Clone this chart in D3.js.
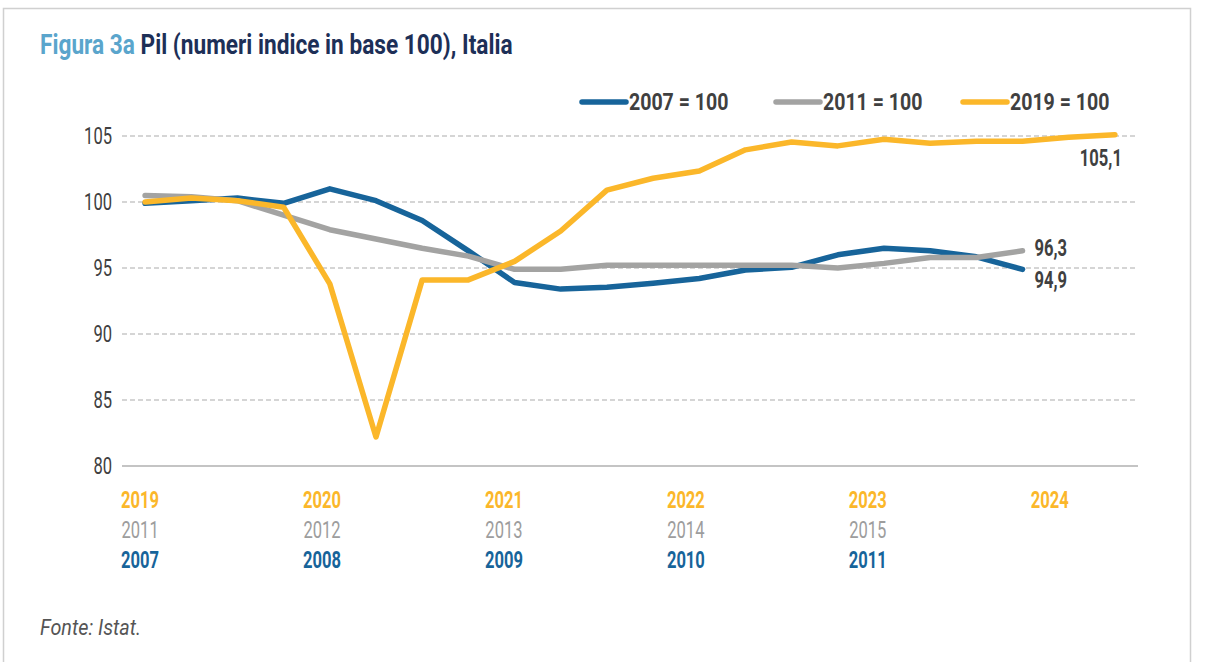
<!DOCTYPE html>
<html>
<head>
<meta charset="utf-8">
<script src="https://cdn.jsdelivr.net/npm/d3@7"></script>
<style>
  body { margin: 0; background: #fff; }
  svg text { font-family: "Roboto", "DejaVu Sans", sans-serif; }
</style>
</head>
<body>
<svg id="chart" width="1206" height="662"></svg>
<script>
// quarterly positions on the x axis (the 2019=100 series runs 2019 T1 .. 2024 T2)
const quarters = [
  "2019T1", "2019T2", "2019T3", "2019T4",
  "2020T1", "2020T2", "2020T3", "2020T4",
  "2021T1", "2021T2", "2021T3", "2021T4",
  "2022T1", "2022T2", "2022T3", "2022T4",
  "2023T1", "2023T2", "2023T3", "2023T4",
  "2024T1", "2024T2"
];

const yearsBase2019 = ["2019", "2020", "2021", "2022", "2023", "2024"];
const yearsBase2011 = ["2011", "2012", "2013", "2014", "2015"];
const yearsBase2007 = ["2007", "2008", "2009", "2010", "2011"];

const base2007 = [99.9, 100.1, 100.3, 99.9, 101.0, 100.1, 98.6, 96.3, 93.9, 93.4,
  93.55, 93.85, 94.2, 94.85, 95.05, 96.0, 96.5, 96.3, 95.85, 94.9];
const base2011 = [100.5, 100.4, 100.1, 99.0, 97.9, 97.2, 96.5, 95.9, 94.9, 94.9,
  95.2, 95.2, 95.2, 95.2, 95.2, 95.0, 95.35, 95.8, 95.8, 96.3];
const base2019 = [100.0, 100.3, 100.1, 99.6, 93.8, 82.2, 94.1, 94.1, 95.5, 97.8,
  100.9, 101.8, 102.35, 103.95, 104.55, 104.25, 104.75, 104.45, 104.6, 104.6, 104.9, 105.1];

const yTicks = [80, 85, 90, 95, 100, 105];

const colors = { b2007: "#17649a", b2011: "#a3a3a2", b2019: "#fbb72a" };
const series = [
  { key: "b2007", label: "2007 = 100", values: base2007, end: "94,9" },
  { key: "b2011", label: "2011 = 100", values: base2011, end: "96,3" },
  { key: "b2019", label: "2019 = 100", values: base2019, end: "105,1" }
];

const svg = d3.select("svg#chart");
const width = +svg.attr("width");
const height = +svg.attr("height");

const margin = { top: 136, right: 68, bottom: 196, left: 122 };
const chartWidth = width - margin.left - margin.right;
const chartHeight = height - margin.top - margin.bottom;

// the original uses a condensed face; squeeze the text horizontally
const at = (px, py, k = 0.72) => `translate(${px},${py}) scale(${k},1)`;

// frame
svg.append("rect")
  .attr("x", 3.5).attr("y", 8.5)
  .attr("width", 1187).attr("height", 700)
  .attr("fill", "none")
  .attr("stroke", "#d0d0d0")
  .attr("stroke-width", 1.5);

// title
const title = svg.append("text")
  .attr("transform", at(40, 54, 0.84))
  .style("font-size", "27px")
  .style("font-weight", "bold");
title.append("tspan").attr("fill", "#5aa5cc").text("Figura 3a ");
title.append("tspan").attr("fill", "#1d2f57").text("Pil (numeri indice in base 100), Italia");

const x = d3.scaleBand(quarters, [0, chartWidth]);
const y = d3.scaleLinear([80, 105], [chartHeight, 0]);
const xc = (i) => x(quarters[i]) + x.bandwidth() / 2;

const chartArea = svg.append("g")
  .attr("transform", `translate(${margin.left},${margin.top})`);

// gridlines
chartArea.append("g")
  .selectAll("line")
  .data(yTicks)
  .join("line")
  .attr("x1", 0).attr("x2", chartWidth)
  .attr("y1", (d) => y(d)).attr("y2", (d) => y(d))
  .attr("stroke", (d) => (d === 80 ? "#c4c4c4" : "#c8c8c8"))
  .attr("stroke-width", (d) => (d === 80 ? 2 : 1.5))
  .attr("stroke-dasharray", (d) => (d === 80 ? null : "5,3"));

// y labels
chartArea.append("g")
  .selectAll("text")
  .data(yTicks)
  .join("text")
  .attr("transform", (d) => at(-10, y(d)))
  .attr("dy", "0.35em")
  .attr("text-anchor", "end")
  .attr("fill", "#404040")
  .style("font-size", "23px")
  .text((d) => d);

// lines
const line = d3.line()
  .x((d, i) => xc(i))
  .y((d) => y(d));

chartArea.selectAll("path.layer")
  .data(series)
  .join("path")
  .attr("class", "layer")
  .attr("d", (d) => line(d.values))
  .attr("fill", "none")
  .attr("stroke", (d) => colors[d.key])
  .attr("stroke-width", 5.5)
  .attr("stroke-linejoin", "round")
  .attr("stroke-linecap", "round");

// end value labels
const lastX = (s) => xc(s.values.length - 1);
const lastY = (s) => y(s.values[s.values.length - 1]);
const endLabel = (s, dx, dy, anchor) =>
  chartArea.append("text")
    .attr("transform", at(lastX(s) + dx, lastY(s) + dy))
    .attr("dy", "0.35em")
    .attr("text-anchor", anchor)
    .attr("fill", "#404040")
    .style("font-size", "23px").style("font-weight", "bold")
    .text(s.end);
endLabel(series[2], 7, 23, "end");
endLabel(series[1], 12, -3, "start");
endLabel(series[0], 12, 11, "start");

// x axis year labels, three rows
const labelX = d3.scaleLinear([0, 5], [xc(0) - 5, xc(20) - 19]);
const rows = [
  { years: yearsBase2019, color: colors.b2019, weight: "bold", dy: 34 },
  { years: yearsBase2011, color: "#9d9d9d", weight: "normal", dy: 64 },
  { years: yearsBase2007, color: colors.b2007, weight: "bold", dy: 94 }
];
rows.forEach((r) => {
  chartArea.append("g")
    .selectAll("text")
    .data(r.years)
    .join("text")
    .attr("transform", (d, i) => at(labelX(i), chartHeight + r.dy))
    .attr("dy", "0.35em")
    .attr("text-anchor", "middle")
    .attr("fill", r.color)
    .style("font-size", "23px")
    .style("font-weight", r.weight)
    .text((d) => d);
});

// legend
const legendX = [582, 776, 963];
const legend = svg.append("g")
  .selectAll("g")
  .data(series)
  .join("g")
  .attr("transform", (d, i) => `translate(${legendX[i]},102)`);
legend.append("line")
  .attr("x1", 0).attr("x2", 44)
  .attr("stroke", (d) => colors[d.key])
  .attr("stroke-width", 5.5)
  .attr("stroke-linecap", "round");
legend.append("text")
  .attr("transform", at(47, 0, 0.85))
  .attr("dy", "0.35em")
  .attr("fill", "#404040")
  .style("font-size", "23px")
  .style("font-weight", "bold")
  .text((d) => d.label);

// source
svg.append("text")
  .attr("transform", at(40, 635, 0.9))
  .attr("fill", "#555")
  .style("font-size", "22px")
  .style("font-style", "italic")
  .text("Fonte: Istat.");
</script>
</body>
</html>
